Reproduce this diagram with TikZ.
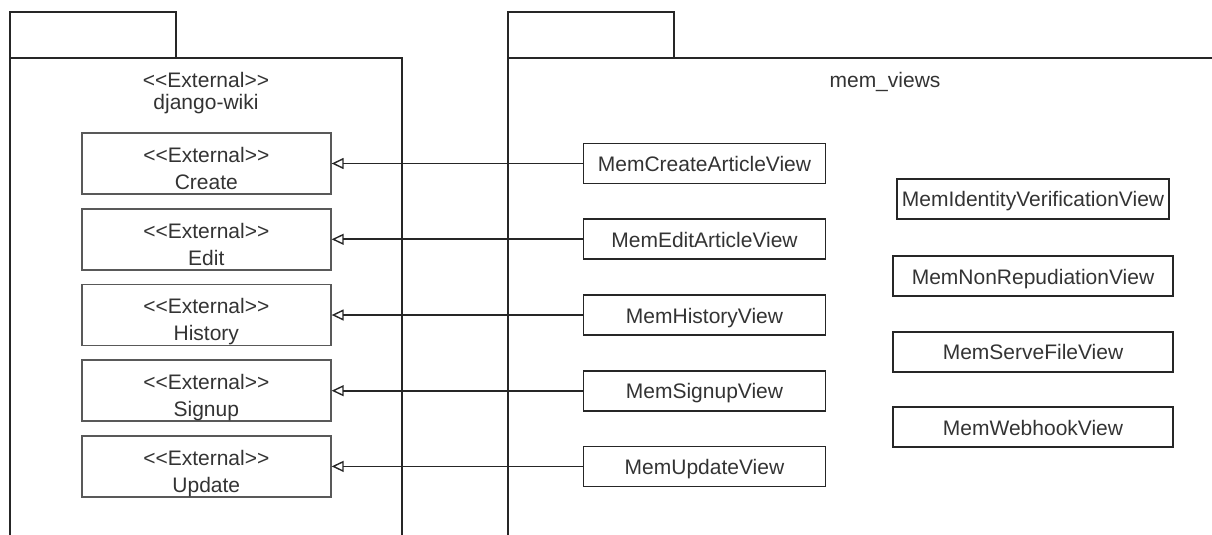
\documentclass[tikz,border=0pt]{standalone}
\usepackage{fontspec}
\setmainfont{Liberation Sans}
\usetikzlibrary{arrows.meta}
\newcommand\extlabel{\rule{0pt}{29pt}<\kern0pt<External>\kern0pt>}
\newcommand\lastdepth{\rule[-4pt]{0pt}{4pt}}
\begin{document}
\begin{tikzpicture}[x=1pt,y=-1pt,
  pkg/.style={draw=black!85, line width=1.7pt},
  pkgtitle/.style={inner sep=0pt, align=center, text=black!80, font=\fontsize{21}{21}\selectfont},
  extbox/.style={draw=black!65, line width=1.7pt, minimum width=249pt, minimum height=61pt,
    inner sep=0pt, align=center, text=black!80, font=\fontsize{21}{27}\selectfont},
  viewbox/.style={draw=black!85, line width=1.7pt, minimum width=242pt, minimum height=40pt,
    inner sep=0pt, text height=16pt, text depth=0pt, text=black!80, font=\fontsize{21}{25}\selectfont},
  otherbox/.style={viewbox, minimum width=280pt},
  realize/.style={draw=black!85, line width=1.7pt, -{Triangle[open, length=12pt, width=11pt, line width=1.4pt]}}]
\useasboundingbox (0,0) rectangle (1212,535);
\clip (0,0) rectangle (1212,535);

% package django-wiki
\draw[pkg] (10,545) -- (10,12) -- (176,12) -- (176,58);
\draw[pkg] (10,58) -- (402,58) -- (402,545);
\node[pkgtitle] (djtitle) at (206,91) {\rule{0pt}{20pt}<\kern0pt<External>\kern0pt>\\django-wiki\rule[-5pt]{0pt}{5pt}};

% package mem_views
\draw[pkg] (508,545) -- (508,12) -- (674,12) -- (674,58);
\draw[pkg] (508,58) -- (1225,58);
\node[pkgtitle, text height=15pt, text depth=5pt] (mvtitle) at (885,82) {mem\_views};

% external classes
\node[extbox] (create)  at (206.3,163.5) {\extlabel\\Create\lastdepth};
\node[extbox] (edit)    at (206.3,239.3) {\extlabel\\Edit\lastdepth};
\node[extbox] (history) at (206.3,315.0) {\extlabel\\History\lastdepth};
\node[extbox] (signup)  at (206.3,390.7) {\extlabel\\Signup\lastdepth};
\node[extbox] (update)  at (206.3,466.4) {\extlabel\\Update\lastdepth};

% mem views
\node[viewbox] (mcreate)  at (704.5,163.5) {MemCreateArticleView};
\node[viewbox] (medit)    at (704.5,239.3) {MemEditArticleView};
\node[viewbox] (mhistory) at (704.5,315.0) {MemHistoryView};
\node[viewbox] (msignup)  at (704.5,390.7) {MemSignupView};
\node[viewbox] (mupdate)  at (704.5,466.4) {MemUpdateView};

\node[otherbox, minimum width=272pt] (mident) at (1033,198.7) {MemIdentityVerificationView};
\node[otherbox] (mnonrep)  at (1033,276.0) {MemNonRepudiationView};
\node[otherbox] (mserve)   at (1033,351.7) {MemServeFileView};
\node[otherbox] (mwebhook) at (1033,427.3) {MemWebhookView};

% generalisations
\draw[realize] (mcreate.west)  -- (create.east);
\draw[realize] (medit.west)    -- (edit.east);
\draw[realize] (mhistory.west) -- (history.east);
\draw[realize] (msignup.west)  -- (signup.east);
\draw[realize] (mupdate.west)  -- (update.east);
\end{tikzpicture}
\end{document}
